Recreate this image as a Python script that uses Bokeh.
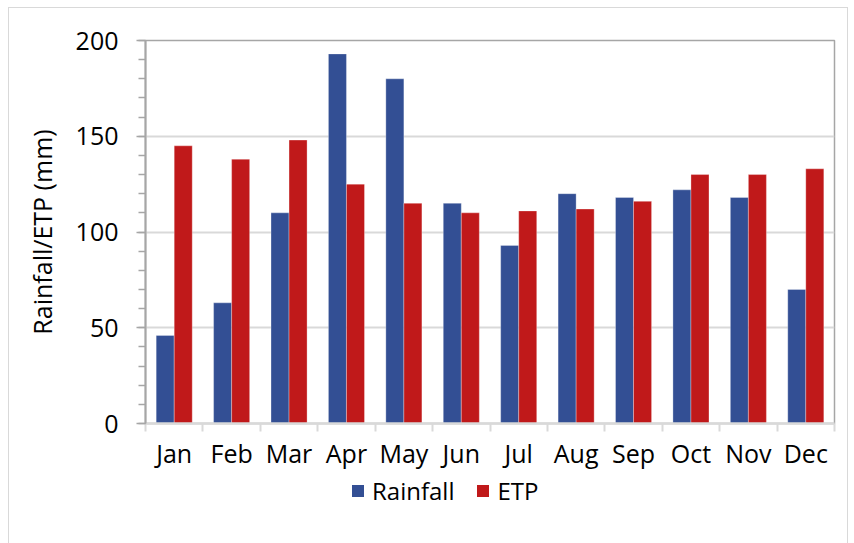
from bokeh.plotting import figure
from bokeh.layouts import column
from bokeh.models import ColumnDataSource, FixedTicker, Legend, LegendItem, Range1d
from bokeh.transform import dodge
from bokeh.embed import file_html
from bokeh.resources import INLINE

months = ["Jan", "Feb", "Mar", "Apr", "May", "Jun", "Jul", "Aug", "Sep", "Oct", "Nov", "Dec"]
rainfall = [46, 63, 110, 193, 180, 115, 93, 120, 118, 122, 118, 70]
etp = [145, 138, 148, 125, 115, 110, 111, 112, 116, 130, 130, 133]
series_names = ["Rainfall", "ETP"]
y_ticks = [0, 50, 100, 150, 200]
y_minor = list(range(0, 201, 10))

centers = [i + 0.5 for i in range(len(months))]
src = ColumnDataSource(dict(x=centers, month=months, rainfall=rainfall, etp=etp))

FONT = "Open Sans"
BLUE = "#334F94"
RED = "#C0191A"

p = figure(width=838, height=467, x_range=Range1d(0, len(months)), y_range=Range1d(0, 200),
           output_backend="svg", toolbar_location=None,
           min_border_left=136, min_border_right=13, min_border_top=32, min_border_bottom=52)

bw = 0.314
r1 = p.vbar(x=dodge("x", -bw / 2), top="rainfall", width=bw, source=src,
            fill_color=BLUE, line_color="#FFFFFF", line_alpha=0.3, line_width=1)
r2 = p.vbar(x=dodge("x", bw / 2), top="etp", width=bw, source=src,
            fill_color=RED, line_color="#FFFFFF", line_alpha=0.3, line_width=1)

p.outline_line_color = "#A6A6A6"
p.outline_line_width = 1.5

# x axis
p.xaxis.ticker = FixedTicker(ticks=centers, minor_ticks=list(range(len(months) + 1)))
p.xaxis.major_label_overrides = {c: m for c, m in zip(centers, months)}
p.xaxis.major_tick_out = 0
p.xaxis.major_tick_in = 0
p.xaxis.minor_tick_out = 8
p.xaxis.minor_tick_in = 0
p.xaxis.minor_tick_line_color = "#D9D9D9"
p.xaxis.minor_tick_line_width = 2
p.xaxis.axis_line_color = "#D9D9D9"
p.xaxis.axis_line_width = 2.5
p.xaxis.major_label_text_font = FONT
p.xaxis.major_label_text_font_size = "25px"
p.xaxis.major_label_text_color = "#000000"
p.xaxis.major_label_standoff = 4

# y axis
p.yaxis.ticker = FixedTicker(ticks=y_ticks, minor_ticks=y_minor)
p.yaxis.major_tick_out = 9
p.yaxis.major_tick_in = 0
p.yaxis.minor_tick_out = 7
p.yaxis.minor_tick_in = 0
p.yaxis.axis_line_color = "#A6A6A6"
p.yaxis.axis_line_width = 2
p.yaxis.major_tick_line_color = "#A6A6A6"
p.yaxis.minor_tick_line_color = "#A6A6A6"
p.yaxis.major_tick_line_width = 1.5
p.yaxis.minor_tick_line_width = 1.5
p.yaxis.major_label_text_font = FONT
p.yaxis.major_label_text_font_size = "25px"
p.yaxis.major_label_text_color = "#000000"
p.yaxis.major_label_standoff = 18
p.yaxis.axis_label = "Rainfall/ETP (mm)"
p.yaxis.axis_label_text_font = FONT
p.yaxis.axis_label_text_font_size = "25px"
p.yaxis.axis_label_text_font_style = "normal"
p.yaxis.axis_label_text_color = "#000000"
p.yaxis.axis_label_standoff = 14

p.xgrid.visible = False
p.ygrid.ticker = FixedTicker(ticks=[50, 100, 150])
p.ygrid.grid_line_color = "#D9D9D9"
p.ygrid.grid_line_width = 2

# legend strip (separate so the legend is not clipped by the plot frame);
# its bar renderers lie far outside its ranges and only serve as legend swatches
lf = figure(width=838, height=68, x_range=Range1d(1000, 1001), y_range=Range1d(1000, 1001),
            output_backend="svg", toolbar_location=None, min_border=0)
lf.axis.visible = False
lf.grid.visible = False
lf.outline_line_color = None
lr1 = lf.vbar(x="x", top="rainfall", width=bw, source=src, fill_color=BLUE, line_color=None)
lr2 = lf.vbar(x="x", top="etp", width=bw, source=src, fill_color=RED, line_color=None)

legend = Legend(items=[LegendItem(label=series_names[0], renderers=[lr1]),
                       LegendItem(label=series_names[1], renderers=[lr2])],
                orientation="horizontal", location=(205, 36),
                border_line_color=None, background_fill_alpha=0,
                glyph_width=15, glyph_height=15, label_standoff=7, spacing=21,
                padding=2, margin=0,
                label_text_font=FONT, label_text_font_size="24px", label_text_color="#000000")
lf.add_layout(legend)

layout = column(p, lf, spacing=0)
layout.styles = {"border": "1px solid #D9D9D9", "margin-left": "8px", "margin-top": "7px"}

open("out.html", "w").write(file_html(layout, INLINE))
